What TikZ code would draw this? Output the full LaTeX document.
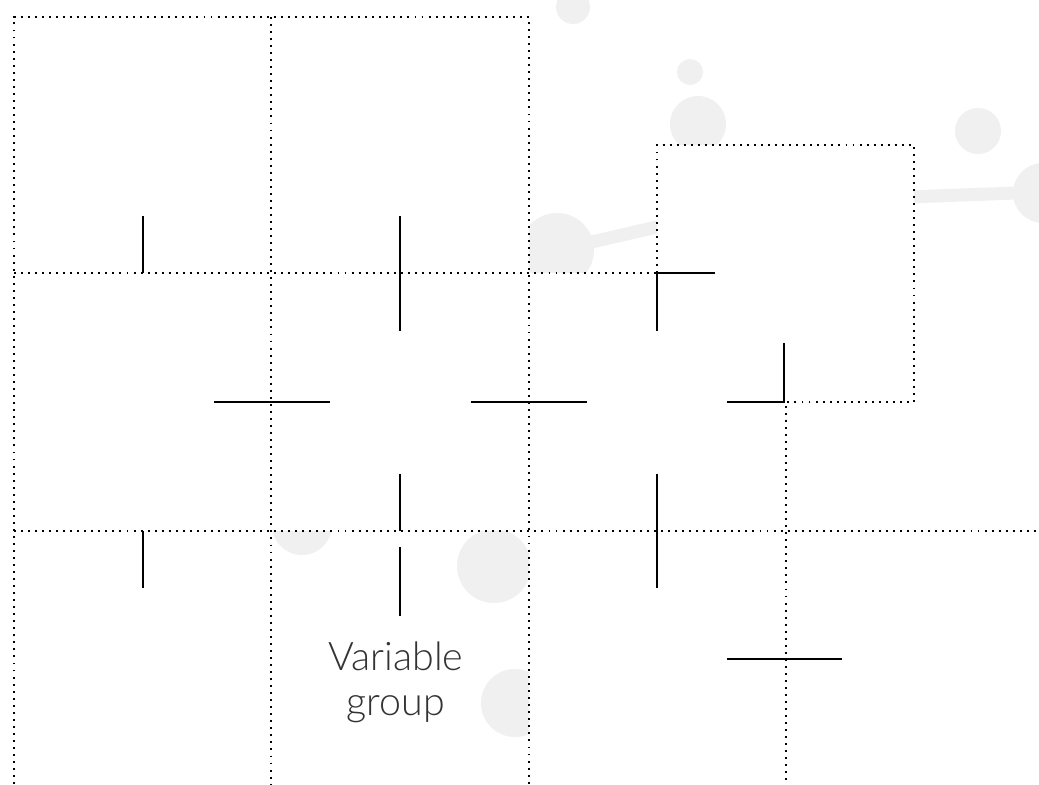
\documentclass[tikz,border=0pt]{standalone}
\usepackage{fontspec}
\setmainfont{Lato}[UprightFont=* Light]
\definecolor{bc}{RGB}{240,240,240}
\definecolor{tc}{RGB}{51,51,51}
\tikzset{grid/.style={line width=.55pt,dash pattern=on .55pt off 1.45pt},
 tick/.style={line width=.7pt},
 blob/.style={fill=bc},stem/.style={draw=bc,line width=3.7pt},
 mask/.style={fill=white},
 lbl/.style={align=center,text=tc,font=\fontsize{11.2}{12.8}\selectfont}}

\begin{document}
\begin{tikzpicture}[x=.01cm,y=-.01cm]
\useasboundingbox (0,0) rectangle (1039,784);
\fill[white] (0,0) rectangle (1039,784);
\foreach \x/\y/\r in {573/7/17,690/72/13,698/124/28,557/250/37,978/131/23,1043/193/30,302/525/30,494/566/37,515/703/34}{\fill[blob] (\x,\y) circle[radius=\r];}
\draw[stem] (557,250)--(700,217);\draw[stem] (880,198)--(1043,192);
\foreach \a/\b/\c/\d in {14/17/529/273,14/273/1039/531,657/145/914/402,14/531/271/784,529/531/786/784}{\fill[mask] (\a,\b) rectangle (\c,\d);}
\draw[grid] (14,784)--(14,17)--(529,17)--(529,784);
\draw[grid] (271,17)--(271,784);
\draw[grid] (14,273)--(657,273);\draw[grid] (14,531)--(1039,531);
\draw[grid] (657,273)--(657,145)--(914,145)--(914,402)--(786,402)--(786,784);
\foreach \x/\a/\b in {143/216/273,400/216/331,400/474/531,143/531/588,400/547/616,657/474/588}{\draw[tick] (\x,\a)--(\x,\b);}
\foreach \y/\a/\b in {402/214/330,402/471/587,659/727/842}{\draw[tick] (\a,\y)--(\b,\y);}
\draw[tick] (715,273)--(657,273)--(657,331);
\draw[tick] (727,402)--(784,402)--(784,343);
\node[lbl] (vg) at (396,682) {Variable\\group};
\end{tikzpicture}
\end{document}
